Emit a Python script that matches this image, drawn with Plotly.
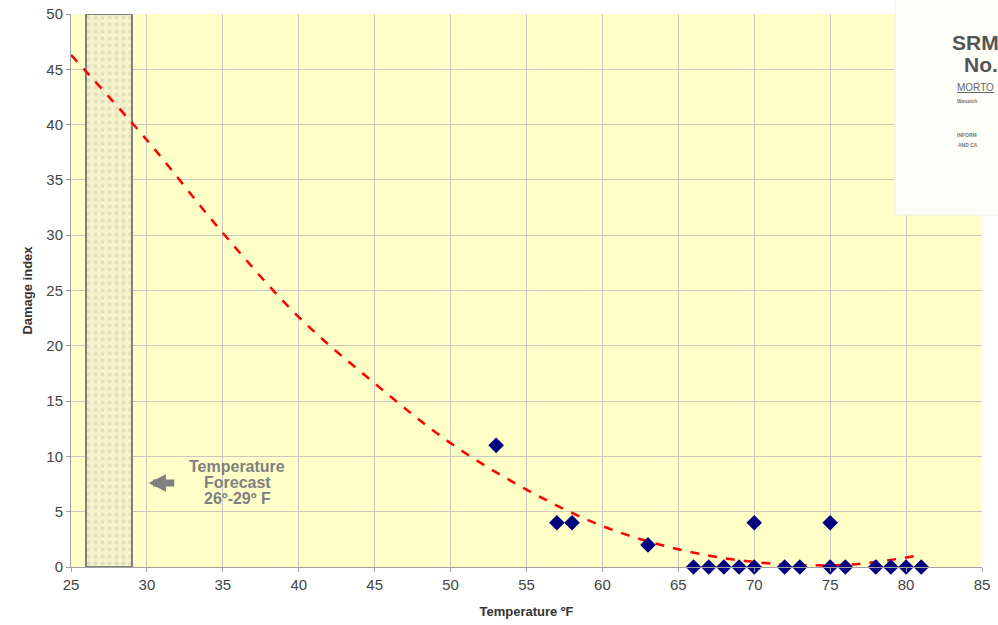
import plotly.graph_objects as go

temps = [53, 57, 58, 63, 66, 67, 68, 69, 70, 70, 72, 73, 75, 75, 76, 78, 79, 80, 81]
damage = [11, 4, 4, 2, 0, 0, 0, 0, 0, 4, 0, 0, 0, 4, 0, 0, 0, 0, 0]

trend_x = [25, 30, 35, 40, 45, 50, 55, 60, 65, 70, 75, 78, 81]
trend_y = [46.3, 38.6, 30.2, 22.6, 16.6, 11.2, 7.0, 3.7, 1.6, 0.45, 0.15, 0.45, 1.1]

forecast_lo, forecast_hi = 26, 29
y_max = 50

x_ticks = list(range(25, 90, 5))
y_ticks = list(range(0, 55, 5))

fig = go.Figure()

fig.add_trace(go.Bar(
    x=[(forecast_lo + forecast_hi) / 2], y=[y_max], base=0,
    width=[forecast_hi - forecast_lo],
    marker=dict(color="#F6F3C8",
                line=dict(color="#808080", width=2),
                pattern=dict(shape=".", fgcolor="#CFCBAE", bgcolor="#F6F3CC",
                             size=7, solidity=0.3)),
    hoverinfo="skip", showlegend=False))

fig.add_trace(go.Scatter(
    x=trend_x, y=trend_y, mode="lines", line=dict(color="#FF0000", width=2.5, dash="dash", shape="spline"),
    showlegend=False))

fig.add_trace(go.Scatter(
    x=temps, y=damage, mode="markers", cliponaxis=False,
    marker=dict(symbol="diamond", size=12, color="#000080"),
    showlegend=False))

# Forecast annotation: arrow pointing left toward the forecast band
fig.add_annotation(x=30.1, y=7.6, ax=31.9, ay=7.6, xref="x", yref="y", axref="x", ayref="y",
                   text="", showarrow=True, arrowhead=2, arrowsize=0.5, arrowwidth=7,
                   arrowcolor="#808080")
for txt, yy in [("Temperature", 9.05), ("Forecast", 7.6), ("26º-29º F", 6.15)]:
    fig.add_annotation(x=35.95, y=yy, xref="x", yref="y", showarrow=False,
                       text="<b>" + txt + "</b>",
                       font=dict(family="Arial, Liberation Sans", size=16, color="#808080"))

# Inset image placeholder (top right)
fig.add_shape(type="rect", xref="paper", yref="paper", x0=0.9045, x1=1.1, y0=0.6365, y1=1.03,
              fillcolor="#FEFEF8", line=dict(color="#EEEEE6", width=1), layer="above")
inset = [
    (0.965, 0.972, "<b>SRM</b>", 21, "#555555"),
    (0.978, 0.933, "<b>No.</b>", 21, "#555555"),
    (0.970, 0.880, "<u>MORTO</u>", 10, "#666666"),
    (0.970, 0.852, "<b>Wasatch</b>", 5, "#777777"),
    (0.970, 0.790, "<b>INFORM</b>", 5, "#777777"),
    (0.972, 0.772, "<b>AND CA</b>", 5, "#777777"),
]
for xx, yy, tt, sz, col in inset:
    fig.add_annotation(x=xx, y=yy, xref="paper", yref="paper", text=tt, showarrow=False,
                       xanchor="left", font=dict(family="Arial, Liberation Sans", size=sz, color=col))

fig.update_layout(
    width=998, height=625,
    margin=dict(l=71, r=16, t=14, b=58, autoexpand=False),
    paper_bgcolor="white", plot_bgcolor="#FFFFC8",
    bargap=0,
    font=dict(family="Arial, Liberation Sans", size=15, color="#444444"),
)
fig.update_xaxes(range=[25, 85], tickvals=x_ticks, showgrid=True, gridcolor="#C8C8C0", gridwidth=1,
                 showline=True, linecolor="#A0A0A0", ticks="outside", ticklen=4, tickcolor="#A0A0A0",
                 zeroline=False, automargin=False,
                 title=dict(text="<b>Temperature ºF</b>", font=dict(size=13, color="#333333"), standoff=14))
fig.update_yaxes(range=[0, 50], tickvals=y_ticks, showgrid=True, gridcolor="#C8C8C0", gridwidth=1,
                 showline=True, linecolor="#A0A0A0", ticks="outside", ticklen=4, tickcolor="#A0A0A0",
                 zeroline=False, automargin=False,
                 title=dict(text="<b>Damage index</b>", font=dict(size=13, color="#333333"), standoff=10))

fig.write_html("out.html", config={"displayModeBar": False},
               post_script="document.body.style.margin='0px';")
